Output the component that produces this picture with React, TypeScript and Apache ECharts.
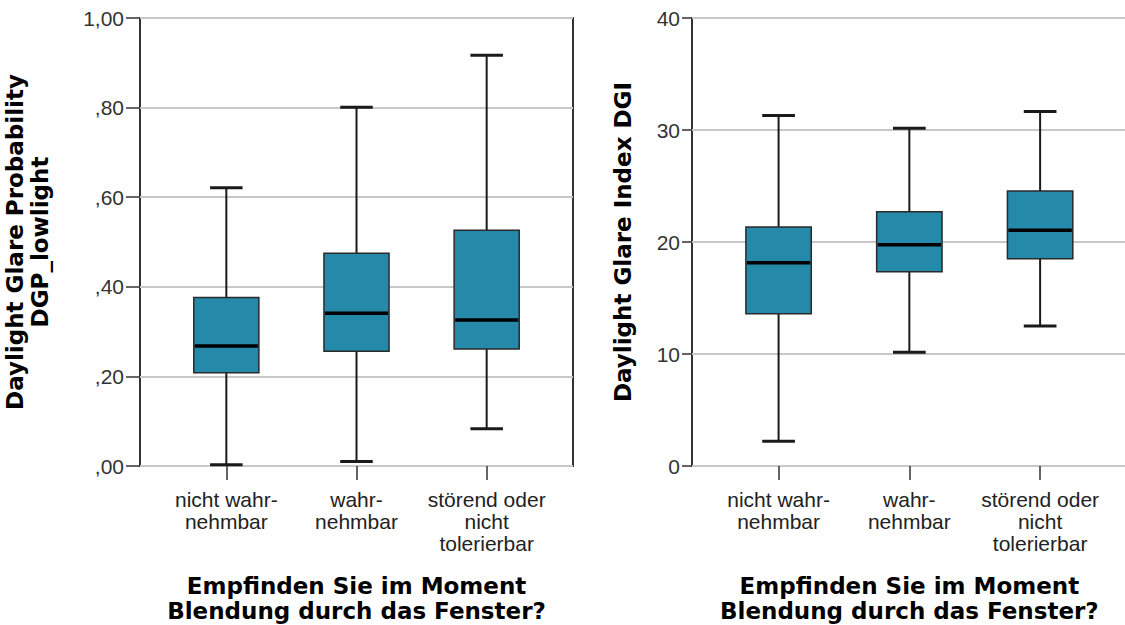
import React, { useEffect, useRef } from "react";
import * as echarts from "echarts";

const categories = ["nicht wahr-\nnehmbar", "wahr-\nnehmbar", "störend oder\nnicht\ntolerierbar"];

// Left panel: Daylight Glare Probability DGP_lowlight
const dgpMin = [0.003, 0.01, 0.083];
const dgpQ1 = [0.208, 0.256, 0.261];
const dgpMedian = [0.268, 0.341, 0.326];
const dgpQ3 = [0.376, 0.475, 0.526];
const dgpMax = [0.621, 0.801, 0.917];
const dgpTicks = [0, 0.2, 0.4, 0.6, 0.8, 1.0];

// Right panel: Daylight Glare Index DGI
const dgiMin = [2.2, 10.15, 12.5];
const dgiQ1 = [13.6, 17.35, 18.5];
const dgiMedian = [18.15, 19.75, 21.05];
const dgiQ3 = [21.35, 22.7, 24.55];
const dgiMax = [31.3, 30.15, 31.65];
const dgiTicks = [0, 10, 20, 30, 40];

const xTitle = "Empfinden Sie im Moment\nBlendung durch das Fenster?";
const leftYTitle = "Daylight Glare Probability\nDGP_lowlight";
const rightYTitle = "Daylight Glare Index DGI";

const FONT = "'Liberation Sans', Arial, sans-serif";
const TITLE_FONT = "'DejaVu Sans', 'Liberation Sans', sans-serif";
const BOX_FILL = "#2589A9";

function buildData(mn: number[], q1: number[], md: number[], q3: number[], mx: number[]) {
  return categories.map((_, i) => [i, mn[i], q1[i], md[i], q3[i], mx[i]]);
}

function renderBox(params: any, api: any) {
  const x = api.value(0);
  const pMin = api.coord([x, api.value(1)]);
  const pQ1 = api.coord([x, api.value(2)]);
  const pMed = api.coord([x, api.value(3)]);
  const pQ3 = api.coord([x, api.value(4)]);
  const pMax = api.coord([x, api.value(5)]);
  const band = api.size([1, 0])[0];
  const bw = band * 0.5;
  const cw = band * 0.25;
  const cx = pMin[0];
  const line = (x1: number, y1: number, x2: number, y2: number, w: number, c: string) => ({
    type: "line",
    shape: { x1, y1, x2, y2 },
    style: { stroke: c, lineWidth: w },
  });
  return {
    type: "group",
    children: [
      line(cx, pMax[1], cx, pQ3[1], 2, "#1a1a1a"),
      line(cx, pQ1[1], cx, pMin[1], 2, "#1a1a1a"),
      line(cx - cw / 2, pMax[1], cx + cw / 2, pMax[1], 3, "#1a1a1a"),
      line(cx - cw / 2, pMin[1], cx + cw / 2, pMin[1], 3, "#1a1a1a"),
      {
        type: "rect",
        shape: { x: cx - bw / 2, y: pQ3[1], width: bw, height: pQ1[1] - pQ3[1] },
        style: { fill: BOX_FILL, stroke: "#2a2a2a", lineWidth: 1.5 },
      },
      line(cx - bw / 2 + 1, pMed[1], cx + bw / 2 - 1, pMed[1], 3.5, "#000"),
    ],
  };
}

export default function App() {
  const ref = useRef<HTMLDivElement>(null);

  useEffect(() => {
    if (!ref.current) return;
    const chart = echarts.init(ref.current, undefined, { renderer: "svg" });

    const TOP = 18;
    const H = 448;
    const frameGrid = (left: number, width: number) => ({
      left,
      top: TOP,
      width,
      height: H,
      show: true,
      borderColor: "#333",
      borderWidth: 2,
      backgroundColor: "transparent",
      containLabel: false,
      outerBoundsMode: "none",
    });
    const dataGrid = (left: number, width: number) => ({
      left,
      top: TOP,
      width,
      height: H,
      show: false,
      containLabel: false,
      outerBoundsMode: "none",
    });

    const frameY = (
      gridIndex: number,
      ticks: number[],
      fmt: (v: number) => string,
      name: string,
      nameGap: number,
      tickLen: number,
      lh: number
    ) => ({
      type: "value",
      gridIndex,
      min: ticks[0],
      max: ticks[ticks.length - 1],
      interval: ticks[1] - ticks[0],
      name,
      nameLocation: "middle",
      nameRotate: 90,
      nameGap,
      nameMoveOverlap: false,
      nameTextStyle: {
        fontFamily: TITLE_FONT,
        fontWeight: "bold",
        fontSize: 23,
        lineHeight: lh,
        color: "#000",
      },
      axisLine: { show: false },
      axisTick: { show: true, inside: false, length: tickLen, lineStyle: { color: "#333", width: 1.5 } },
      axisLabel: {
        show: true,
        margin: tickLen + 2,
        fontFamily: FONT,
        fontSize: 21,
        color: "#333",
        formatter: fmt,
      },
      splitLine: { show: true, lineStyle: { color: "#c8c8c8", width: 2 } },
    });

    const hiddenY = (gridIndex: number, ticks: number[]) => ({
      type: "value",
      gridIndex,
      min: ticks[0],
      max: ticks[ticks.length - 1],
      show: false,
      splitLine: { show: false },
    });

    const catX = (gridIndex: number) => ({
      type: "category",
      gridIndex,
      data: categories,
      boundaryGap: true,
      name: xTitle,
      nameLocation: "middle",
      nameGap: 107,
      nameMoveOverlap: false,
      nameTextStyle: {
        fontFamily: TITLE_FONT,
        fontWeight: "bold",
        fontSize: 23,
        lineHeight: 25,
        color: "#000",
      },
      axisLine: { show: false },
      axisTick: { show: true, alignWithLabel: true, length: 14, lineStyle: { color: "#333", width: 1.5 } },
      axisLabel: {
        interval: 0,
        margin: 22,
        fontFamily: FONT,
        fontSize: 21,
        lineHeight: 22,
        color: "#222",
        align: "center",
      },
      splitLine: { show: false },
    });

    const hiddenX = (gridIndex: number) => ({
      type: "value",
      gridIndex,
      min: 0,
      max: 1,
      show: false,
      splitLine: { show: false },
    });

    const dgpFmt = (v: number) => {
      const s = v.toFixed(2).replace(".", ",");
      return s.startsWith("0") ? s.slice(1) : s;
    };
    const dgiFmt = (v: number) => String(Math.round(v));

    chart.setOption({
      animation: false,
      backgroundColor: "#fff",
      grid: [
        frameGrid(140, 433),
        dataGrid(161.25, 390.5),
        frameGrid(692, 434),
        dataGrid(713.2, 392.3),
      ],
      xAxis: [hiddenX(0), catX(1), hiddenX(2), catX(3)],
      yAxis: [
        frameY(0, dgpTicks, dgpFmt, leftYTitle, 88, 14, 25),
        hiddenY(1, dgpTicks),
        frameY(2, dgiTicks, dgiFmt, rightYTitle, 57, 10, 25),
        hiddenY(3, dgiTicks),
      ],
      series: [
        {
          type: "custom",
          xAxisIndex: 1,
          yAxisIndex: 1,
          renderItem: renderBox,
          data: buildData(dgpMin, dgpQ1, dgpMedian, dgpQ3, dgpMax),
          encode: { x: 0, y: [1, 2, 3, 4, 5] },
          z: 5,
        },
        {
          type: "custom",
          xAxisIndex: 3,
          yAxisIndex: 3,
          renderItem: renderBox,
          data: buildData(dgiMin, dgiQ1, dgiMedian, dgiQ3, dgiMax),
          encode: { x: 0, y: [1, 2, 3, 4, 5] },
          z: 5,
        },
      ],
    });

    return () => chart.dispose();
  }, []);

  return (
    <div
      ref={ref}
      style={{ position: "fixed", left: 0, top: 0, width: 1130, height: 625, background: "#fff" }}
    />
  );
}
